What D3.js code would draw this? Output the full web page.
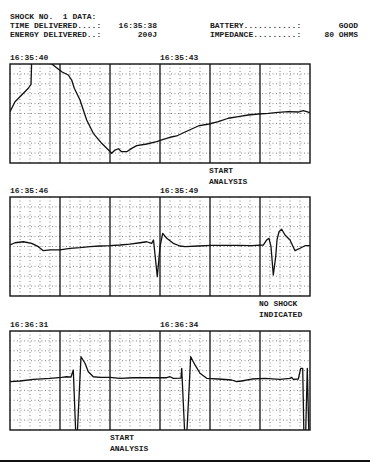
<!DOCTYPE html>
<html>
<head>
<meta charset="utf-8">
<script src="https://cdn.jsdelivr.net/npm/d3@7"></script>
<style>
  body { margin: 0; background: #fff; }
  text { font-family: "Liberation Mono", "DejaVu Sans Mono", monospace; font-size: 8px; font-weight: bold; fill: #1a1a1a; white-space: pre; }
</style>
</head>
<body>
<div id="chart"></div>
<script>
const width = 370, height = 463;

// strip times (seconds from strip start) and amplitude (small grid boxes, 0 = bottom)
const strip1T = [0, 0.1, 0.234, 0.366, 0.42, 0.44, 0.6, 0.76, 1.034, 1.166, 1.234, 1.286, 1.4, 1.534, 1.666, 1.834, 2.034, 2.1, 2.166, 2.234, 2.334, 2.434, 2.534, 2.734, 2.934, 3.066, 3.2, 3.334, 3.5, 3.766, 3.98, 4.166, 4.366, 4.566, 4.766, 4.966, 5.166, 5.366, 5.566, 5.766, 5.866, 6.0];
const strip1V = [5.18, 6.19, 6.87, 7.55, 7.95, 11.4, 12.4, 10.3, 9.22, 8.89, 8.38, 7.55, 6.36, 4.34, 3.0, 1.99, 0.98, 1.31, 1.44, 1.14, 1.14, 1.48, 1.75, 1.92, 2.15, 2.39, 2.6, 2.73, 3.13, 3.74, 3.94, 4.17, 4.52, 4.68, 4.85, 4.95, 5.02, 5.12, 5.18, 5.15, 5.28, 5.08];

const strip2T = [0, 0.1, 0.266, 0.434, 0.566, 0.666, 0.8, 1.0, 1.2, 1.4, 1.6, 1.8, 2.0, 2.2, 2.4, 2.6, 2.734, 2.834, 2.87, 2.946, 3.0, 3.054, 3.134, 3.266, 3.4, 3.5, 3.766, 4.034, 4.3, 4.566, 4.834, 5.066, 5.134, 5.18, 5.22, 5.266, 5.314, 5.34, 5.38, 5.434, 5.5, 5.6, 5.7, 5.8, 5.9, 6.0];
const strip2V = [5.15, 5.38, 5.48, 5.32, 4.98, 4.58, 4.65, 4.65, 4.82, 4.88, 4.98, 5.05, 5.08, 5.15, 5.25, 5.38, 5.48, 5.32, 5.66, 1.95, 4.98, 6.33, 5.83, 5.32, 5.05, 4.98, 5.05, 5.12, 5.12, 5.12, 5.08, 5.15, 5.66, 5.83, 4.98, 2.12, 3.97, 5.66, 6.49, 6.74, 6.16, 5.66, 4.58, 4.82, 5.08, 5.08];

const strip3T = [0, 0.2, 0.466, 0.8, 1.034, 1.134, 1.22, 1.266, 1.32, 1.34, 1.42, 1.5, 1.566, 1.666, 1.8, 2.0, 2.2, 2.466, 2.8, 3.134, 3.2, 3.266, 3.42, 3.434, 3.5, 3.53, 3.614, 3.7, 3.8, 3.934, 4.166, 4.434, 4.534, 4.634, 4.834, 5.1, 5.4, 5.6, 5.634, 5.666, 5.766, 5.814, 5.854, 5.88, 5.91, 5.946, 5.98];
const strip3V = [4.88, 4.95, 5.12, 5.22, 5.32, 5.38, 5.35, 6.06, -1, -1, 7.4, 6.74, 5.89, 5.38, 5.32, 5.32, 5.22, 5.28, 5.28, 5.28, 5.38, 5.22, 5.25, 6.23, -1, -1, 7.4, 6.57, 5.73, 5.22, 5.15, 5.05, 4.88, 4.95, 5.15, 5.22, 5.12, 5.22, 5.32, 5.12, 5.15, 6.23, 6.23, -1, -1, 6.23, -1];

const stripStart = ["16:35:40", "16:35:46", "16:36:31"];
const stripMid = ["16:35:43", "16:35:49", "16:36:34"];
const noteTime = [3.98, 4.98, 2.0];
const noteLines = [["START", "ANALYSIS"], ["NO SHOCK", "INDICATED"], ["START", "ANALYSIS"]];

const headerLeft = ["SHOCK NO.  1 DATA:", "TIME DELIVERED....:", "ENERGY DELIVERED..:"];
const headerMid = ["", "16:35:38", "200J"];
const headerRight = ["", "BATTERY...........:", "IMPEDANCE.........:"];
const headerValue = ["", "GOOD", "80 OHMS"];

const strips = [
  { T: strip1T, V: strip1V },
  { T: strip2T, V: strip2V },
  { T: strip3T, V: strip3V }
];

const tops = [64, 197, 331], stripH = 99;

const svg = d3.select("#chart")
  .append("svg")
  .attr("width", width)
  .attr("height", height);

// header block
headerLeft.forEach((s, i) => {
  const yy = 19 + i * 9;
  svg.append("text").attr("x", 10).attr("y", yy).text(s);
  svg.append("text").attr("x", 157).attr("y", yy).attr("text-anchor", "end").text(headerMid[i]);
  svg.append("text").attr("x", 210).attr("y", yy).text(headerRight[i]);
  svg.append("text").attr("x", 358).attr("y", yy).attr("text-anchor", "end").text(headerValue[i]);
});

const x = d3.scaleLinear().domain([0, 6]).range([10, 310]);

strips.forEach((s, k) => {
  const top = tops[k];
  const y = d3.scaleLinear().domain([0, 10]).range([top + stripH, top]);
  const g = svg.append("g");

  // minor grid (dotted)
  const minorX = d3.range(1, 30).filter(i => i % 5 !== 0).map(i => i * 0.2);
  g.selectAll(".vx").data(minorX).join("line")
    .attr("x1", d => x(d)).attr("x2", d => x(d))
    .attr("y1", y(10)).attr("y2", y(0))
    .attr("stroke", "#666").attr("stroke-width", 0.8).attr("stroke-dasharray", "1,2.5");
  g.selectAll(".hy").data(d3.range(1, 10)).join("line")
    .attr("x1", x(0)).attr("x2", x(6))
    .attr("y1", d => y(d)).attr("y2", d => y(d))
    .attr("stroke", "#666").attr("stroke-width", 0.8).attr("stroke-dasharray", "1,2.5");

  // one-second lines
  g.selectAll(".mx").data(d3.range(1, 6)).join("line")
    .attr("x1", d => x(d)).attr("x2", d => x(d))
    .attr("y1", y(10)).attr("y2", y(0))
    .attr("stroke", "#111").attr("stroke-width", 1.3);

  g.append("rect")
    .attr("x", x(0)).attr("y", y(10))
    .attr("width", x(6) - x(0)).attr("height", y(0) - y(10))
    .attr("fill", "none").attr("stroke", "#111").attr("stroke-width", 1.4);

  svg.append("clipPath").attr("id", "clip" + k)
    .append("rect")
    .attr("x", x(0)).attr("y", y(10))
    .attr("width", x(6) - x(0)).attr("height", y(0) - y(10));

  const pts = s.T.map((t, i) => ({ t: t, v: s.V[i] }));
  const line = d3.line().x(d => x(d.t)).y(d => y(d.v));

  g.append("path")
    .datum(pts)
    .attr("d", line)
    .attr("clip-path", `url(#clip${k})`)
    .attr("fill", "none")
    .attr("stroke", "#111")
    .attr("stroke-width", 1.3)
    .attr("stroke-linejoin", "round");

  // timestamps
  g.append("text").attr("x", x(0)).attr("y", top - 4).text(stripStart[k]);
  g.append("text").attr("x", x(3)).attr("y", top - 4).text(stripMid[k]);

  // annotation under strip
  noteLines[k].forEach((s2, j) => {
    g.append("text")
      .attr("x", x(noteTime[k]))
      .attr("y", y(0) + 9.5 + j * 11)
      .text(s2);
  });
});

// bottom rule
svg.append("line")
  .attr("x1", 0).attr("x2", width)
  .attr("y1", 461).attr("y2", 461)
  .attr("stroke", "#111").attr("stroke-width", 2);
</script>
</body>
</html>
